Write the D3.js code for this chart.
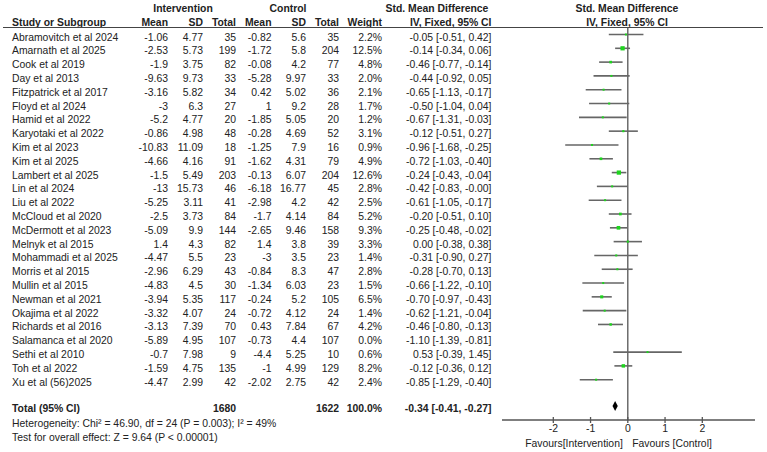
<!DOCTYPE html>
<html>
<head>
<meta charset="utf-8">
<script src="https://cdn.jsdelivr.net/npm/d3@7"></script>
<style>
  body { margin: 0; background: #fff; }
  svg text { font-family: "Liberation Sans", Arial, sans-serif; font-size: 10.4px; fill: #222; }
  svg text.b { font-weight: bold; }
</style>
</head>
<body>
<div id="plot"></div>
<script>
// study rows
var studies = ["Abramovitch et al 2024","Amarnath et al 2025","Cook et al 2019","Day et al 2013",
  "Fitzpatrick et al 2017","Floyd et al 2024","Hamid et al 2022","Karyotaki et al 2022","Kim et al 2023",
  "Kim et al 2025","Lambert et al 2025","Lin et al 2024","Liu et al  2022","McCloud et al 2020",
  "McDermott et al 2023","Melnyk et al 2015","Mohammadi et al 2025","Morris et al 2015","Mullin et al 2015",
  "Newman et al 2021","Okajima et al 2022","Richards et al 2016","Salamanca et al  2020","Sethi et al 2010",
  "Toh et al 2022","Xu et al (56)2025"];
var intMean = [-1.06,-2.53,-1.9,-9.63,-3.16,-3,-5.2,-0.86,-10.83,-4.66,-1.5,-13,-5.25,-2.5,-5.09,1.4,-4.47,-2.96,-4.83,-3.94,-3.32,-3.13,-5.89,-0.7,-1.59,-4.47];
var intSD = [4.77,5.73,3.75,9.73,5.82,6.3,4.77,4.98,11.09,4.16,5.49,15.73,3.11,3.73,9.9,4.3,5.5,6.29,4.5,5.35,4.07,7.39,4.95,7.98,4.75,2.99];
var intN = [35,199,82,33,34,27,20,48,18,91,203,46,41,84,144,82,23,43,30,117,24,70,107,9,135,42];
var ctlMean = [-0.82,-1.72,-0.08,-5.28,0.42,1,-1.85,-0.28,-1.25,-1.62,-0.13,-6.18,-2.98,-1.7,-2.65,1.4,-3,-0.84,-1.34,-0.24,-0.72,0.43,-0.73,-4.4,-1,-2.02];
var ctlSD = [5.6,5.8,4.2,9.97,5.02,9.2,5.05,4.69,7.9,4.31,6.07,16.77,4.2,4.14,9.46,3.8,3.5,8.3,6.03,5.2,4.12,7.84,4.4,5.25,4.99,2.75];
var ctlN = [35,204,77,33,36,28,20,52,16,79,204,45,42,84,158,39,23,47,23,105,24,67,107,10,129,42];
var weight = [2.2,12.5,4.8,2.0,2.1,1.7,1.2,3.1,0.9,4.9,12.6,2.8,2.5,5.2,9.3,3.3,1.4,2.8,1.5,6.5,1.4,4.2,0.0,0.6,8.2,2.4];
var smd = [-0.05,-0.14,-0.46,-0.44,-0.65,-0.50,-0.67,-0.12,-0.96,-0.72,-0.24,-0.42,-0.61,-0.20,-0.25,0.00,-0.31,-0.28,-0.66,-0.70,-0.62,-0.46,-1.10,0.53,-0.12,-0.85];
var ciLo = [-0.51,-0.34,-0.77,-0.92,-1.13,-1.04,-1.31,-0.51,-1.68,-1.03,-0.43,-0.83,-1.05,-0.51,-0.48,-0.38,-0.90,-0.70,-1.22,-0.97,-1.21,-0.80,-1.39,-0.39,-0.36,-1.29];
var ciHi = [0.42,0.06,-0.14,0.05,-0.17,0.04,-0.03,0.27,-0.25,-0.40,-0.04,-0.00,-0.17,0.10,-0.02,0.38,0.27,0.13,-0.10,-0.43,-0.04,-0.13,-0.81,1.45,0.12,-0.40];

// pooled
var totalInt = 1680, totalCtl = 1622, totalW = "100.0%";
var pooled = [-0.34, -0.41, -0.27];
var ticks = [-2, -1, 0, 1, 2];

var W = 767, H = 452;
var svg = d3.select("#plot").append("svg").attr("width", W).attr("height", H);

function f2(v) { return (Object.is(v, -0) ? "-" : "") + v.toFixed(2); }

var y = d3.scaleLinear().domain([0, studies.length - 1]).range([36.5, 381.7]);
var x = d3.scaleLinear().domain([-2, 2]).range([553.3, 702.3]);

// column positions (right edges)
var cols = [
  { x: 168, anchor: "end", v: intMean, head: "Mean" },
  { x: 203, anchor: "end", v: intSD, head: "SD" },
  { x: 236, anchor: "end", v: intN, head: "Total" },
  { x: 271.5, anchor: "end", v: ctlMean, head: "Mean" },
  { x: 306, anchor: "end", v: ctlSD, head: "SD" },
  { x: 339, anchor: "end", v: ctlN, head: "Total" },
  { x: 382, anchor: "end", v: weight.map(function(w){ return w.toFixed(1) + "%"; }), head: "Weight" },
  { x: 491.5, anchor: "end", v: smd.map(function(s, i){ return f2(s) + " [" + f2(ciLo[i]) + ", " + f2(ciHi[i]) + "]"; }), head: "IV, Fixed, 95% CI" }
];

// headers
svg.append("text").attr("class", "b").attr("x", 183).attr("y", 11.5).attr("text-anchor", "middle").text("Intervention");
svg.append("text").attr("class", "b").attr("x", 288).attr("y", 11.5).attr("text-anchor", "middle").text("Control");
svg.append("text").attr("class", "b").attr("x", 437).attr("y", 11.5).attr("text-anchor", "middle").text("Std. Mean Difference");
svg.append("text").attr("class", "b").attr("x", 627).attr("y", 11.5).attr("text-anchor", "middle").text("Std. Mean Difference");
svg.append("text").attr("class", "b").attr("x", 12).attr("y", 26).text("Study or Subgroup");
cols.forEach(function(c) {
  svg.append("text").attr("class", "b").attr("x", c.x).attr("y", 26).attr("text-anchor", c.anchor).text(c.head);
});
svg.append("text").attr("class", "b").attr("x", 627).attr("y", 26).attr("text-anchor", "middle").text("IV, Fixed, 95% CI");

svg.append("line").attr("x1", 3).attr("x2", 763).attr("y1", 27.5).attr("y2", 27.5)
  .attr("stroke", "#444").attr("stroke-width", 1.2);

// study text
svg.append("g").selectAll("text").data(studies).enter().append("text")
  .attr("x", 12).attr("y", function(d, i) { return y(i) + 4; }).text(function(d) { return d; });

cols.forEach(function(c) {
  svg.append("g").selectAll("text").data(c.v).enter().append("text")
    .attr("x", c.x).attr("y", function(d, i) { return y(i) + 4; })
    .attr("text-anchor", c.anchor).text(function(d) { return d; });
});

// totals
var ty = 412;
svg.append("text").attr("class", "b").attr("x", 12).attr("y", ty).text("Total (95% CI)");
svg.append("text").attr("class", "b").attr("x", 236).attr("y", ty).attr("text-anchor", "end").text(totalInt);
svg.append("text").attr("class", "b").attr("x", 339).attr("y", ty).attr("text-anchor", "end").text(totalCtl);
svg.append("text").attr("class", "b").attr("x", 382).attr("y", ty).attr("text-anchor", "end").text(totalW);
svg.append("text").attr("class", "b").attr("x", 491.5).attr("y", ty).attr("text-anchor", "end")
  .text(f2(pooled[0]) + " [" + f2(pooled[1]) + ", " + f2(pooled[2]) + "]");
svg.append("text").attr("x", 12).attr("y", 427).text("Heterogeneity: Chi\u00B2 = 46.90, df = 24 (P = 0.003); I\u00B2 = 49%");
svg.append("text").attr("x", 12).attr("y", 441).text("Test for overall effect: Z = 9.64 (P < 0.00001)");

// forest plot
var axisY = 420;
svg.append("line").attr("x1", x(0)).attr("x2", x(0)).attr("y1", 27.5).attr("y2", axisY)
  .attr("stroke", "#555").attr("stroke-width", 1.3);

var rows = svg.append("g").selectAll("g").data(studies).enter().append("g")
  .filter(function(d, i) { return weight[i] > 0; });
rows.append("line")
  .attr("x1", function(d) { return x(ciLo[studies.indexOf(d)]); })
  .attr("x2", function(d) { return x(ciHi[studies.indexOf(d)]); })
  .attr("y1", function(d) { return y(studies.indexOf(d)) - 2; })
  .attr("y2", function(d) { return y(studies.indexOf(d)) - 2; })
  .attr("stroke", "#666").attr("stroke-width", 1.6);
rows.append("rect")
  .each(function(d) {
    var i = studies.indexOf(d);
    var s = Math.max(2, 1.2 * Math.sqrt(weight[i]));
    d3.select(this).attr("x", x(smd[i]) - s / 2).attr("y", y(i) - 2 - s / 2).attr("width", s).attr("height", s);
  })
  .attr("fill", "#1ed41e");

// pooled diamond
var dy = 406;
svg.append("path")
  .attr("d", "M" + x(pooled[1]) + "," + dy + "L" + x(pooled[0]) + "," + (dy - 5) +
             "L" + x(pooled[2]) + "," + dy + "L" + x(pooled[0]) + "," + (dy + 5) + "Z")
  .attr("fill", "#000");

// axis
svg.append("line").attr("x1", 502).attr("x2", 755).attr("y1", axisY).attr("y2", axisY)
  .attr("stroke", "#555").attr("stroke-width", 1.3);
svg.append("g").selectAll("line").data(ticks).enter().append("line")
  .attr("x1", function(d) { return x(d); }).attr("x2", function(d) { return x(d); })
  .attr("y1", axisY - 3).attr("y2", axisY + 3).attr("stroke", "#555").attr("stroke-width", 1.3);
svg.append("g").selectAll("text").data(ticks).enter().append("text")
  .attr("x", function(d) { return x(d); }).attr("y", 432).attr("text-anchor", "middle")
  .text(function(d) { return d; });

svg.append("text").attr("x", 574).attr("y", 447).attr("text-anchor", "middle").text("Favours[Intervention]");
svg.append("text").attr("x", 672).attr("y", 447).attr("text-anchor", "middle").text("Favours [Control]");
</script>
</body>
</html>
